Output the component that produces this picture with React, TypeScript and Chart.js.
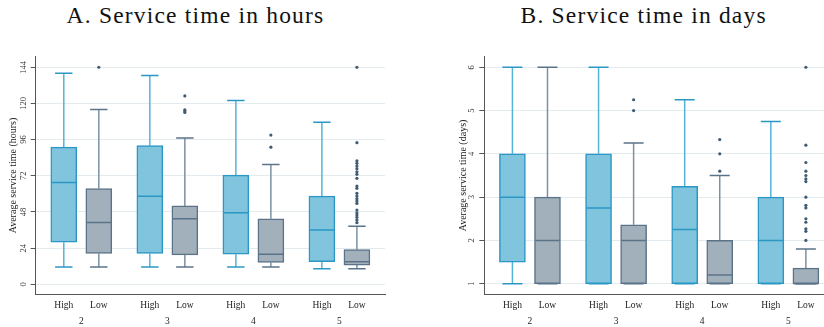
import React, { useEffect, useRef } from 'react';
import { Chart, registerables } from 'chart.js';

Chart.register(...registerables);
Chart.defaults.font.family = "'Liberation Serif', 'Times New Roman', serif";

// ---------- data ----------
const groups = [2, 3, 4, 5];
const boxLabels = ['High', 'Low'];

// each row: [lower whisker, Q1, median, Q3, upper whisker]
const hoursHigh = [
  [11.5, 28, 67.5, 91, 140],
  [11.5, 20.5, 58.5, 92, 138.5],
  [11.5, 20, 47.5, 72.5, 122],
  [10.3, 15, 36, 58.5, 107.5],
];
const hoursLow = [
  [11.5, 20.5, 41, 63.5, 116],
  [11.5, 19.5, 43.5, 52, 97],
  [11.5, 14.5, 20, 43.5, 79.5],
  [10.3, 12.8, 15, 23, 38.5],
];
const hoursLowOutliers = [
  [144],
  [125, 115.7, 115, 114],
  [99, 91],
  [144, 94, 82, 80.3, 78.5, 76.7, 74.7, 73, 70.3, 65.2, 63.7, 60.4, 58.6, 56.8, 55.3, 53.7, 49.3, 47.5, 46, 44.5, 42.7, 40.9],
];
const hoursTicks = [0, 24, 48, 72, 96, 120, 144];

const daysHigh = [
  [1, 1.5, 3, 4, 6],
  [1, 1, 2.75, 4, 6],
  [1, 1, 2.25, 3.25, 5.25],
  [1, 1, 2, 3, 4.75],
];
const daysLow = [
  [1, 1, 2, 3, 6],
  [1, 1, 2, 2.36, 4.25],
  [1, 1, 1.2, 2, 3.5],
  [1, 1, 1, 1.36, 1.8],
];
const daysLowOutliers = [
  [],
  [5.25, 5],
  [4.33, 4, 3.6],
  [6, 4.2, 3.8, 3.6, 3.5, 3.42, 3.36, 3, 2.81, 2.75, 2.5, 2.42, 2.27, 2.21, 2],
];
const daysTicks = [1, 2, 3, 4, 5, 6];

// ---------- styles ----------
const OFF = 0.2035;
const HIGH_FILL = '#80c4de';
const HIGH_LINE = '#2a97c4';
const HIGH_WHISK = '#55b3da';
const LOW_FILL = '#a2b0bb';
const LOW_LINE = '#5b7388';
const LOW_WHISK = '#7b91a3';
const DOT = '#3f5b74';
const AXIS = '#555555';
const GRID = '#e3ebee';

type PanelOpts = {
  high: number[][];
  low: number[][];
  outliers: number[][];
  yTicks: number[];
  yMin: number;
  yMax: number;
  yTitle: string;
  yWidth: number;
  tickPad: number;
  capR: number;
};

function whiskerData(rows: number[][], dx: number) {
  const out: { x: number; y: number | null }[] = [];
  rows.forEach((r, i) => {
    const x = groups[i] + dx;
    out.push({ x, y: r[3] }, { x, y: r[4] }, { x, y: null });
    out.push({ x, y: r[0] }, { x, y: r[1] }, { x, y: null });
  });
  return out;
}

function makeConfig(p: PanelOpts): any {
  const sides = [
    { rows: p.high, dx: -OFF, fill: HIGH_FILL, line: HIGH_LINE, whisk: HIGH_WHISK },
    { rows: p.low, dx: OFF, fill: LOW_FILL, line: LOW_LINE, whisk: LOW_WHISK },
  ];
  const datasets: any[] = [];
  sides.forEach((s) => {
    datasets.push({
      type: 'line',
      data: whiskerData(s.rows, s.dx),
      borderColor: s.whisk,
      borderWidth: 1.5,
      pointRadius: 0,
      fill: false,
      spanGaps: false,
      order: 9,
    });
    datasets.push({
      type: 'scatter',
      data: s.rows.flatMap((r, i) => [
        { x: groups[i] + s.dx, y: r[4] },
        { x: groups[i] + s.dx, y: r[0] },
      ]),
      pointStyle: 'line',
      pointRadius: p.capR,
      pointHoverRadius: p.capR,
      pointBorderColor: s.line,
      pointBorderWidth: 1.5,
      order: 8,
    });
    datasets.push({
      type: 'bar',
      data: s.rows.map((r, i) => ({ x: groups[i] + s.dx, y: [r[1], r[3]] })),
      backgroundColor: s.fill,
      borderColor: s.line,
      borderWidth: 1.5,
      borderSkipped: false,
      barThickness: 26,
      grouped: false,
      order: 5,
    });
    datasets.push({
      type: 'scatter',
      data: s.rows.map((r, i) => ({ x: groups[i] + s.dx, y: r[2] })),
      pointStyle: 'line',
      pointRadius: 12.2,
      pointHoverRadius: 12.2,
      pointBorderColor: s.line,
      pointBorderWidth: 1.5,
      order: 2,
    });
  });
  datasets.push({
    type: 'scatter',
    data: p.outliers.flatMap((vals, i) => vals.map((v) => ({ x: groups[i] + OFF, y: v }))),
    pointStyle: 'circle',
    pointRadius: 1.6,
    pointHoverRadius: 1.6,
    pointBackgroundColor: DOT,
    pointBorderColor: DOT,
    pointBorderWidth: 0,
    order: 1,
  });

  return {
    type: 'bar',
    data: { datasets },
    options: {
      responsive: false,
      maintainAspectRatio: false,
      animation: false,
      devicePixelRatio: 1,
      events: [],
      layout: { padding: { left: 0, right: 35, top: 16.7, bottom: 0 } },
      plugins: { legend: { display: false }, tooltip: { enabled: false }, title: { display: false } },
      scales: {
        x: {
          type: 'linear',
          min: 1.47,
          max: 5.53,
          offset: false,
          weight: 0,
          grid: { display: false, drawTicks: false, offset: false },
          border: { display: true, color: AXIS, width: 1 },
          afterBuildTicks: (axis: any) => {
            axis.ticks = groups.flatMap((g) => [{ value: g - OFF }, { value: g + OFF }]);
          },
          afterFit: (axis: any) => {
            axis.height = 17;
          },
          ticks: {
            autoSkip: false,
            maxRotation: 0,
            minRotation: 0,
            padding: 5,
            color: '#222',
            font: { size: 9.5 },
            callback: (v: number) => (v < Math.round(v) ? boxLabels[0] : boxLabels[1]),
          },
        },
        x2: {
          type: 'linear',
          position: 'bottom',
          min: 1.47,
          max: 5.53,
          offset: false,
          weight: 1,
          grid: { display: false, drawTicks: false },
          border: { display: false },
          afterBuildTicks: (axis: any) => {
            axis.ticks = groups.map((g) => ({ value: g }));
          },
          afterFit: (axis: any) => {
            axis.height = 15.7;
          },
          ticks: {
            autoSkip: false,
            maxRotation: 0,
            minRotation: 0,
            padding: 4.7,
            color: '#222',
            font: { size: 9.5 },
            callback: (v: number) => String(v),
          },
        },
        y: {
          type: 'linear',
          min: p.yMin,
          max: p.yMax,
          afterBuildTicks: (axis: any) => {
            axis.ticks = p.yTicks.map((v) => ({ value: v }));
          },
          afterFit: (axis: any) => {
            axis.width = p.yWidth;
          },
          grid: { color: GRID, lineWidth: 1, drawTicks: true, tickLength: 5, tickColor: AXIS },
          border: { display: true, color: AXIS, width: 1 },
          ticks: {
            minRotation: 90,
            maxRotation: 90,
            crossAlign: 'center',
            padding: p.tickPad,
            color: '#333',
            font: { size: 8.5 },
          },
          title: {
            display: true,
            text: p.yTitle,
            color: '#222',
            font: { size: 10 },
            padding: { top: 7.3, bottom: 0 },
          },
        },
      },
    },
  };
}

function Panel({ left, width, opts }: { left: number; width: number; opts: PanelOpts }) {
  const ref = useRef<HTMLCanvasElement | null>(null);
  useEffect(() => {
    if (!ref.current) return;
    const chart = new Chart(ref.current, makeConfig(opts));
    return () => chart.destroy();
  }, []);
  return (
    <canvas
      ref={ref}
      width={width}
      height={287}
      style={{ position: 'absolute', left, top: 40, width, height: 287 }}
    />
  );
}

const titleStyle = (cx: number): React.CSSProperties => ({
  position: 'absolute',
  left: cx,
  top: 4,
  transform: 'translateX(-50%)',
  whiteSpace: 'nowrap',
  fontFamily: "'Liberation Serif', 'Times New Roman', serif",
  fontSize: 23.5,
  lineHeight: 1,
  letterSpacing: 1.2,
  color: '#111',
});

export default function App() {
  return (
    <div
      style={{
        position: 'absolute',
        left: 0,
        top: 0,
        width: 824,
        height: 327,
        overflow: 'hidden',
        background: '#ffffff',
      }}
    >
      <div style={titleStyle(195.5)}>A. Service time in hours</div>
      <div style={titleStyle(643.7)}>B. Service time in days</div>
      <Panel
        left={0}
        width={420}
        opts={{
          high: hoursHigh,
          low: hoursLow,
          outliers: hoursLowOutliers,
          yTicks: hoursTicks,
          yMin: -6.6,
          yMax: 151,
          yTitle: 'Average service time (hours)',
          yWidth: 35.7,
          tickPad: 1,
          capR: 8.7,
        }}
      />
      <Panel
        left={450}
        width={419}
        opts={{
          high: daysHigh,
          low: daysLow,
          outliers: daysLowOutliers,
          yTicks: daysTicks,
          yMin: 0.756,
          yMax: 6.244,
          yTitle: 'Average service time (days)',
          yWidth: 34.3,
          tickPad: 5.5,
          capR: 10,
        }}
      />
    </div>
  );
}
